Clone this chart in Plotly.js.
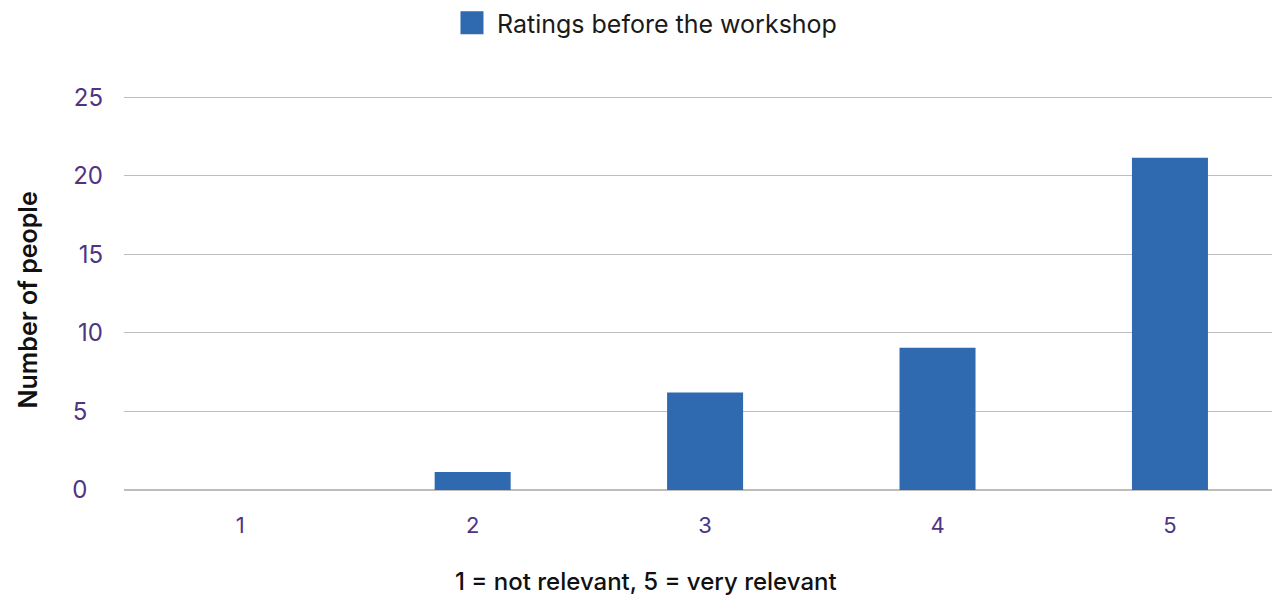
<!DOCTYPE html>
<html>
<head>
<meta charset="utf-8">
<script src="https://cdn.plot.ly/plotly-3.0.1.min.js"></script>
<style>
  html, body { margin: 0; padding: 0; background: #ffffff; }
  #chart { width: 1272px; height: 595px; }
</style>
</head>
<body>
<div id="chart"></div>
<script>
// Relevance ratings (1-5) given before the workshop
const ratingLabels = ['1', '2', '3', '4', '5'];
const peopleBefore = [0, 1.15, 6.2, 9.05, 21.15];
const yTickValues = [0, 5, 10, 15, 20, 25];
const seriesName = 'Ratings before the workshop';
const xTitle = '1 = not relevant, 5 = very relevant';
const yTitle = 'Number of people';

const FONT = 'Inter, Lato, "Noto Sans", sans-serif';
const TICK_COLOR = '#4E3483';
const BAR_COLOR = '#2F69AF';
const TITLE_COLOR = '#111111';

// y labels sit flush-left in their column: pad one-digit values with a figure space
const yTickText = yTickValues.map(v => String(v).padEnd(2, '\u2007'));

const traces = [{
  type: 'bar',
  x: ratingLabels,
  y: peopleBefore,
  name: seriesName,
  marker: { color: BAR_COLOR },
  width: 0.327,
  hoverinfo: 'x+y'
}];

const layout = {
  width: 1272,
  height: 595,
  paper_bgcolor: '#ffffff',
  plot_bgcolor: '#ffffff',
  margin: { l: 124, r: 0, t: 94, b: 105 },
  font: { family: FONT, color: '#1a1a1a' },
  showlegend: true,
  legend: {
    orientation: 'h',
    x: 0.5106, xref: 'container', xanchor: 'center',
    y: 1.0, yref: 'container', yanchor: 'top',
    font: { family: FONT, size: 25, color: '#1a1a1a' },
    itemwidth: 30
  },
  xaxis: {
    type: 'category',
    range: [-0.5, 4.439],
    showgrid: false,
    zeroline: false,
    showline: false,
    ticks: '',
    tickfont: { family: FONT, size: 22, color: TICK_COLOR },
    ticklabelstandoff: 20
  },
  yaxis: {
    range: [0, 25.2],
    tickvals: yTickValues,
    ticktext: yTickText,
    showgrid: true,
    gridcolor: '#BDBDBD',
    gridwidth: 1.2,
    zeroline: true,
    zerolinecolor: '#BDBDBD',
    zerolinewidth: 1.2,
    showline: false,
    ticks: '',
    tickfont: { family: FONT, size: 24, color: TICK_COLOR },
    ticklabelstandoff: 20
  },
  annotations: [
    {
      text: xTitle,
      xref: 'paper', yref: 'paper',
      x: 0.4543, y: -0.2323,
      xanchor: 'center', yanchor: 'middle',
      showarrow: false,
      font: { family: FONT, size: 24, color: TITLE_COLOR, weight: 500 }
    },
    {
      text: yTitle,
      xref: 'paper', yref: 'paper',
      x: -0.0832, y: 0.4798,
      xanchor: 'center', yanchor: 'middle',
      textangle: -90,
      showarrow: false,
      font: { family: FONT, size: 25, color: TITLE_COLOR, weight: 600 }
    }
  ]
};

Plotly.newPlot('chart', traces, layout, { displayModeBar: false, staticPlot: true })
  .then(gd => {
    // enlarge the legend swatch to a 23px square
    gd.querySelectorAll('.legend .legendpoints path').forEach(p => {
      p.setAttribute('d', 'M6.5,11.5H-16.5V-11.5H6.5Z');
    });
  });
</script>
</body>
</html>
